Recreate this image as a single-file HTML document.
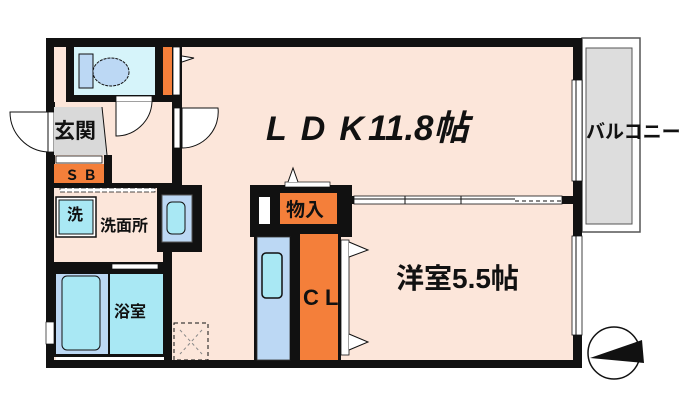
<!DOCTYPE html>
<html><head><meta charset="utf-8"><style>
html,body{margin:0;padding:0;background:#fff;}
svg{display:block}
text{font-family:"Liberation Sans","Noto Sans CJK JP",sans-serif;font-weight:bold;fill:#111}
</style></head><body>
<svg width="700" height="420" viewBox="0 0 700 420" xmlns="http://www.w3.org/2000/svg">
<rect width="700" height="420" fill="#fff"/>
<!-- balcony -->
<rect x="582" y="38" width="58" height="194" fill="#fff" stroke="#555" stroke-width="1.5"/>
<rect x="586" y="48" width="46" height="176" fill="#ddd" stroke="#555" stroke-width="1"/>
<!-- outer wall -->
<rect x="46" y="38" width="536" height="330" fill="#111"/>
<rect x="54" y="47" width="519" height="313" fill="#fce6da"/>
<!-- toilet block -->
<rect x="66" y="46" width="116" height="56" fill="#111"/>
<rect x="74" y="47" width="81" height="48" fill="#d6f4fa"/>
<rect x="79" y="54" width="14" height="34" fill="#bcd8f4" stroke="#111"/>
<ellipse cx="111" cy="72" rx="18" ry="14" fill="#bcd8f4" stroke="#111" stroke-dasharray="3,1"/>
<rect x="163" y="47" width="9" height="48" fill="#f47f3a"/>
<rect x="173" y="47" width="7" height="48" fill="#fff" stroke="#111" stroke-width="0.8"/>
<path d="M182 56 L194 58 L182 62" fill="#fff" stroke="#111"/>
<rect x="116" y="96" width="36" height="6" fill="#fff" stroke="#111" stroke-width="0.8"/>
<path d="M116 102 L116 136 A36 36 0 0 0 152 102" fill="#fff" stroke="#111"/>
<!-- entrance -->
<rect x="46" y="102" width="9" height="70" fill="#111"/>
<rect x="48" y="112" width="6" height="40" fill="#fff" stroke="#111" stroke-width="0.8"/>
<path d="M48 112 L10 112 A40 40 0 0 0 48 152 Z" fill="#fff" stroke="#111"/>
<polygon points="54,107 102,107 107,155 54,155" fill="#d9d9d9"/>
<line x1="102" y1="107" x2="107" y2="155" stroke="#111"/>
<rect x="56" y="156" width="46" height="7" fill="#fff" stroke="#111" stroke-width="0.8"/>
<rect x="54" y="164" width="50" height="19" fill="#f47f3a"/>
<rect x="104" y="155" width="8" height="30" fill="#111"/>
<!-- vertical wall between hall and LDK -->
<rect x="172" y="100" width="10" height="88" fill="#111"/>
<rect x="174" y="108" width="6" height="40" fill="#fff" stroke="#111" stroke-width="0.8"/>
<path d="M182 108 L218 108 A36 36 0 0 1 182 148 Z" fill="#fff" stroke="#111"/>
<!-- 洗面所 -->
<rect x="54" y="183" width="120" height="5" fill="#111"/>
<rect x="60" y="188" width="95" height="4" fill="#fff" stroke="#111" stroke-width="0.7" stroke-dasharray="5,2"/>
<rect x="56" y="197" width="40" height="40" fill="#fff" stroke="#111" stroke-width="1.5"/>
<rect x="59" y="200" width="34" height="34" fill="#a9e8f4" stroke="#111"/>
<rect x="157" y="185" width="45" height="67" fill="#111"/>
<rect x="162" y="195" width="30" height="47" fill="#bcd8f4" stroke="#555"/>
<rect x="167" y="202" width="18" height="32" rx="5" fill="#a9e8f4" stroke="#111"/>
<rect x="163" y="252" width="9" height="113" fill="#111"/>
<!-- bath -->
<rect x="54" y="262" width="110" height="9" fill="#111"/>
<rect x="112" y="264" width="46" height="5" fill="#fff" stroke="#111" stroke-width="0.7"/>
<path d="M145 272 L151 288 L157 272" fill="none" stroke="#111"/>
<rect x="54" y="271" width="110" height="86" fill="#111"/>
<rect x="56" y="274" width="52" height="80" fill="#bcd8f4"/>
<rect x="62" y="276" width="38" height="74" rx="5" fill="#a9e8f4" stroke="#111"/>
<rect x="110" y="274" width="53" height="80" fill="#a9e8f4"/>
<rect x="56" y="357" width="108" height="3" fill="#fff"/>
<rect x="46" y="322" width="8" height="22" fill="#fff" stroke="#111" stroke-width="0.7"/>
<rect x="174" y="323" width="34" height="37" fill="none" stroke="#111" stroke-dasharray="4,3"/>
<path d="M180 330 L202 354 M202 330 L180 354" stroke="#888" stroke-dasharray="3,3"/>
<!-- closet block -->
<rect x="250" y="185" width="102" height="52" fill="#111"/>
<rect x="280" y="193" width="57" height="31" fill="#f47f3a"/>
<rect x="259" y="197" width="11" height="27" fill="#fff"/>
<rect x="285" y="182" width="45" height="5" fill="#fff" stroke="#111" stroke-width="0.7"/>
<path d="M288 182 L293 168 L298 182" fill="#fff" stroke="#111"/>
<rect x="254" y="237" width="3" height="123" fill="#111"/>
<rect x="257" y="237" width="33" height="123" fill="#bcd8f4" stroke="#333" stroke-width="0.8"/>
<rect x="262" y="253" width="20" height="45" rx="4" fill="#a9e8f4" stroke="#111" stroke-width="1.5"/>
<rect x="290" y="237" width="10" height="123" fill="#111"/>
<rect x="300" y="234" width="38" height="126" fill="#f47f3a"/>
<rect x="338" y="234" width="3" height="126" fill="#111"/>
<rect x="341" y="240" width="8" height="115" fill="#fff" stroke="#111" stroke-width="0.8"/>
<path d="M349 242 L368 250 L349 257" fill="#fff" stroke="#111"/>
<path d="M349 334 L368 342 L349 350" fill="#fff" stroke="#111"/>
<!-- partition LDK / 洋室 -->
<rect x="340" y="196" width="233" height="8" fill="#111"/>
<rect x="354" y="196" width="208" height="8" fill="#fff" stroke="#111" stroke-width="0.8"/>
<line x1="354" y1="199" x2="515" y2="199" stroke="#111"/>
<line x1="405" y1="196" x2="405" y2="204" stroke="#111"/>
<line x1="461" y1="196" x2="461" y2="204" stroke="#111"/>
<line x1="515" y1="201" x2="562" y2="201" stroke="#111" stroke-dasharray="4,3"/>
<!-- right windows -->
<rect x="572" y="80" width="10" height="101" fill="#fff" stroke="#111" stroke-width="0.8"/>
<line x1="576" y1="80" x2="576" y2="181" stroke="#111"/>
<rect x="572" y="236" width="10" height="99" fill="#fff" stroke="#111" stroke-width="0.8"/>
<line x1="576" y1="236" x2="576" y2="335" stroke="#111"/>
<!-- compass -->
<circle cx="614" cy="353" r="26" fill="#fff" stroke="#111" stroke-width="1.5"/>
<polygon points="590,358 642,340 644,363" fill="#111"/>
<!-- labels -->
<text x="266" y="140" font-size="34" font-style="italic" letter-spacing="14">LDK</text>
<text x="368" y="140" font-size="35" font-style="italic">11.8帖</text>
<text x="396" y="288" font-size="28">洋室5.5帖</text>
<text x="586" y="138" font-size="19" font-weight="normal">バルコニー</text>
<text x="303" y="305" font-size="22">C L</text>
<text x="286" y="216" font-size="19">物入</text>
<text x="54" y="138" font-size="21">玄関</text>
<text x="65" y="180" font-size="14" letter-spacing="4">ＳＢ</text>
<text x="67" y="220" font-size="16">洗</text>
<text x="100" y="231" font-size="16">洗面所</text>
<text x="114" y="317" font-size="16">浴室</text>
</svg>
</body></html>
